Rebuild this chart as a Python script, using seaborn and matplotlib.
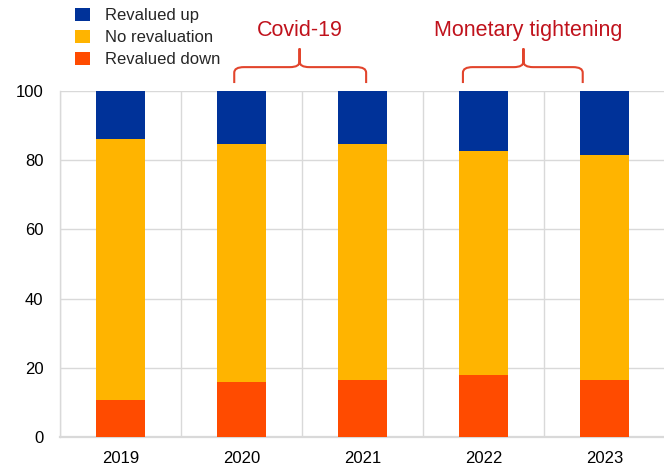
import matplotlib
matplotlib.use("Agg")
import matplotlib.pyplot as plt
from matplotlib.path import Path
from matplotlib.patches import PathPatch, Patch
import numpy as np
import pandas as pd
import seaborn as sns

years = ["2019", "2020", "2021", "2022", "2023"]
revalued_down = [10.8, 15.8, 16.4, 18.0, 16.6]
no_revaluation = [75.2, 69.0, 68.3, 64.7, 65.0]
revalued_up = [14.0, 15.2, 15.3, 17.3, 18.4]
y_ticks = [0, 20, 40, 60, 80, 100]

labels = ["Revalued up", "No revaluation", "Revalued down"]
colors = ["#003299", "#FFB400", "#FF4B00"]

sns.set_theme(style="white")
plt.rcParams["font.family"] = ["Liberation Sans", "DejaVu Sans"]

df = pd.DataFrame({
    "year": years,
    "down": revalued_down,
    "none": no_revaluation,
    "up": revalued_up,
})
# cumulative tops of each stacked segment
df["top_down"] = df["down"]
df["top_none"] = df["down"] + df["none"]
df["top_up"] = df["down"] + df["none"] + df["up"]

fig = plt.figure(figsize=(6.64, 4.67), dpi=100)
ax = fig.add_axes([60 / 664, 1 - 437 / 467, 605 / 664, (437 - 91) / 467])

for col, c in zip(["top_up", "top_none", "top_down"], colors):
    sns.barplot(data=df, x="year", y=col, color=c, width=0.4,
                saturation=1, ax=ax, zorder=3, linewidth=0)

ax.set_xlim(-0.5, 4.5)
ax.set_ylim(0, 100)
ax.set_yticks(y_ticks)
ax.set_xlabel("")
ax.set_ylabel("")

# gridlines: horizontal at ticks, vertical at category boundaries
ax.set_xticks(np.arange(-0.5, 5.0, 1.0), minor=True)
ax.grid(axis="y", which="major", color="#D9D9D9", linewidth=1.0, zorder=0)
ax.grid(axis="x", which="minor", color="#D9D9D9", linewidth=1.0, zorder=0)
ax.grid(axis="x", which="major", visible=False)
ax.tick_params(axis="both", which="both", length=0, labelsize=12,
               colors="#000000")
ax.tick_params(axis="y", pad=12)
ax.tick_params(axis="x", pad=10)
for side in ["top", "right"]:
    ax.spines[side].set_visible(False)
ax.spines["left"].set_color("#D9D9D9")
ax.spines["left"].set_linewidth(1.0)
ax.spines["bottom"].set_color("#D9D9D9")
ax.spines["bottom"].set_linewidth(1.6)

# legend
handles = [Patch(facecolor=c, edgecolor="none") for c in colors]
fig.legend(handles, labels, loc="upper left",
           bbox_to_anchor=(75 / 664, 1.0 - 8 / 467), frameon=False,
           fontsize=12, handlelength=0.9, handleheight=0.85,
           handletextpad=0.9, labelspacing=0.38, borderaxespad=0.0,
           borderpad=0.0)

# period braces above the bars
brace_color = "#E2442C"
text_color = "#C0121C"


def brace(x0, x1, xm, y_end, y_bar, y_tip, r=0.08, rv=1.6):
    verts = [
        (x0, y_end), (x0, y_bar - rv), (x0, y_bar), (x0 + r, y_bar),
        (xm - r, y_bar), (xm, y_bar), (xm, y_bar + rv), (xm, y_tip),
        (xm, y_bar + rv), (xm, y_bar), (xm + r, y_bar),
        (x1 - r, y_bar), (x1, y_bar), (x1, y_bar - rv), (x1, y_end),
    ]
    codes = [Path.MOVETO, Path.LINETO, Path.CURVE3, Path.CURVE3,
             Path.LINETO, Path.CURVE3, Path.CURVE3, Path.LINETO,
             Path.LINETO, Path.CURVE3, Path.CURVE3,
             Path.LINETO, Path.CURVE3, Path.CURVE3, Path.LINETO]
    ax.add_patch(PathPatch(Path(verts, codes), facecolor="none",
                           edgecolor=brace_color, linewidth=1.5,
                           clip_on=False, zorder=5))


brace(0.94, 2.03, 1.48, 102.3, 106.9, 112.3)
brace(2.83, 3.82, 3.33, 102.3, 106.9, 112.3)
ax.text(1.48, 117.6, "Covid-19", ha="center", va="center",
        fontsize=15.5, color=text_color, clip_on=False)
ax.text(3.37, 117.6, "Monetary tightening", ha="center", va="center",
        fontsize=15.5, color=text_color, clip_on=False)

fig.savefig("out.png", dpi=100)
